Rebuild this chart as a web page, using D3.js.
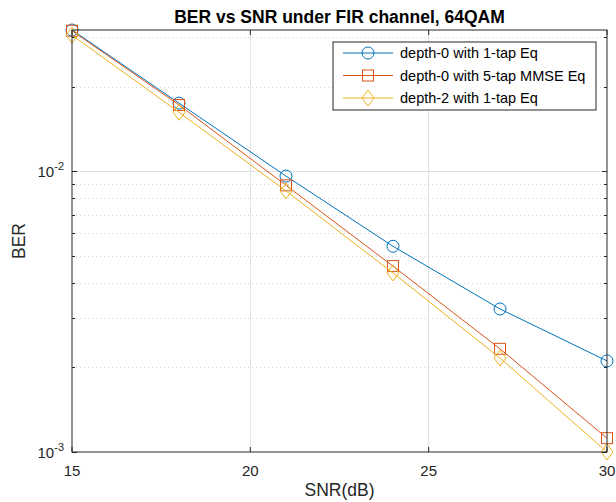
<!DOCTYPE html>
<html>
<head>
<meta charset="utf-8">
<script src="https://cdn.jsdelivr.net/npm/d3@7"></script>
<style>
  body { margin: 0; background: #fff; }
  text { font-family: "Liberation Sans", Arial, sans-serif; }
</style>
</head>
<body>
<div id="chart"></div>
<script>
// SNR points (dB)
var snr = [15, 18, 21, 24, 27, 30];
// BER values
var berDepth0OneTap = [0.0318, 0.01746, 0.0096, 0.0054, 0.00323, 0.00211];
var berDepth0Mmse = [0.0316, 0.0172, 0.0089, 0.00459, 0.00233, 0.00112];
var berDepth2OneTap = [0.0305, 0.0162, 0.0085, 0.00434, 0.00216, 0.0010];
var seriesNames = ["depth-0 with 1-tap Eq", "depth-0 with 5-tap MMSE Eq", "depth-2 with 1-tap Eq"];
var xTicks = [15, 20, 25, 30];
var yMajor = [0.001, 0.01];
var yMinor = [0.002, 0.003, 0.004, 0.005, 0.006, 0.007, 0.008, 0.009, 0.02, 0.03];

var W = 616, H = 502;
var margin = {top: 30, right: 9, bottom: 50, left: 72};
var width = W - margin.left - margin.right,
    height = H - margin.top - margin.bottom;

var colors = ["#0072BD", "#D95319", "#EDB120"];
var markers = ["circle", "square", "diamond"];
var series = [berDepth0OneTap, berDepth0Mmse, berDepth2OneTap];

var svg = d3.select("#chart").append("svg")
    .attr("width", W)
    .attr("height", H);

var g = svg.append("g")
    .attr("transform", "translate(" + margin.left + "," + margin.top + ")");

var x = d3.scaleLinear().domain([15, 30]).range([0, width]);
var y = d3.scaleLog().domain([0.001, 0.0318]).range([height, 0]);

// grid
g.selectAll(".xgrid").data(xTicks.slice(1, 3)).enter().append("line")
    .attr("x1", function(d) { return x(d); })
    .attr("x2", function(d) { return x(d); })
    .attr("y1", 0).attr("y2", height)
    .style("stroke", "#dfdfdf").style("stroke-width", 1);

g.selectAll(".ymin").data(yMinor).enter().append("line")
    .attr("x1", 0).attr("x2", width)
    .attr("y1", function(d) { return Math.round(y(d)) + 0.5; })
    .attr("y2", function(d) { return Math.round(y(d)) + 0.5; })
    .style("stroke", "#d8d8d8").style("stroke-width", 1)
    .style("stroke-dasharray", "1,3");

g.append("line")
    .attr("x1", 0).attr("x2", width)
    .attr("y1", Math.round(y(0.01)) + 0.5).attr("y2", Math.round(y(0.01)) + 0.5)
    .style("stroke", "#dfdfdf").style("stroke-width", 1);

// ticks (inside, both sides)
var tickLen = 5;
xTicks.forEach(function(t) {
    var px = x(t);
    g.append("line").attr("x1", px).attr("x2", px).attr("y1", height).attr("y2", height - tickLen)
        .style("stroke", "#262626");
    g.append("line").attr("x1", px).attr("x2", px).attr("y1", 0).attr("y2", tickLen)
        .style("stroke", "#262626");
});
yMajor.concat(yMinor).forEach(function(t) {
    var py = Math.round(y(t)) + 0.5;
    var len = yMajor.indexOf(t) >= 0 ? tickLen : 3;
    g.append("line").attr("x1", 0).attr("x2", len).attr("y1", py).attr("y2", py)
        .style("stroke", "#262626");
    g.append("line").attr("x1", width).attr("x2", width - len).attr("y1", py).attr("y2", py)
        .style("stroke", "#262626");
});

// tick labels
g.selectAll(".xlab").data(xTicks).enter().append("text")
    .attr("x", function(d) { return x(d); })
    .attr("y", height + 24)
    .attr("text-anchor", "middle")
    .style("font-size", "15px")
    .style("fill", "#262626")
    .text(function(d) { return d; });

yMajor.forEach(function(t) {
    var exp = Math.round(Math.log10(t));
    var lab = g.append("text")
        .attr("x", -8)
        .attr("y", y(t) + 6)
        .attr("text-anchor", "end")
        .style("font-size", "15px")
        .style("fill", "#262626");
    lab.append("tspan").text("10");
    lab.append("tspan").attr("dy", -7).style("font-size", "11px").text(exp);
});

// lines and markers
var line = d3.line()
    .x(function(d, i) { return x(snr[i]); })
    .y(function(d) { return y(d); });

function drawMarker(sel, type, color) {
    if (type === "circle") {
        sel.append("circle").attr("r", 6);
    } else if (type === "square") {
        sel.append("rect").attr("x", -5.5).attr("y", -5.5).attr("width", 11).attr("height", 11);
    } else {
        sel.append("path").attr("d", "M0,-8L6,0L0,8L-6,0Z");
    }
    sel.selectAll("*").style("fill", "none").style("stroke", color).style("stroke-width", 1);
}

series.forEach(function(vals, k) {
    g.append("path")
        .datum(vals)
        .attr("d", line)
        .style("fill", "none")
        .style("stroke", colors[k])
        .style("stroke-width", 1);
    vals.forEach(function(v, i) {
        var m = g.append("g").attr("transform", "translate(" + x(snr[i]) + "," + y(v) + ")");
        drawMarker(m, markers[k], colors[k]);
    });
});

// axes box
g.append("rect")
    .attr("x", 0).attr("y", 0)
    .attr("width", width).attr("height", height)
    .style("fill", "none")
    .style("stroke", "#262626")
    .style("stroke-width", 1);

// title and labels
svg.append("text")
    .attr("x", margin.left + width / 2)
    .attr("y", 23)
    .attr("text-anchor", "middle")
    .style("font-size", "17.5px")
    .style("font-weight", "bold")
    .style("fill", "#000")
    .text("BER vs SNR under FIR channel, 64QAM");

svg.append("text")
    .attr("x", margin.left + width / 2)
    .attr("y", 496)
    .attr("text-anchor", "middle")
    .style("font-size", "17.5px")
    .style("fill", "#262626")
    .text("SNR(dB)");

svg.append("text")
    .attr("transform", "translate(25," + (margin.top + height / 2) + ") rotate(-90)")
    .attr("text-anchor", "middle")
    .style("font-size", "17.5px")
    .style("fill", "#262626")
    .text("BER");

/***** Legend *****/
var leg = svg.append("g").attr("transform", "translate(333,42)");
leg.append("rect")
    .attr("width", 263).attr("height", 68)
    .style("fill", "#fff")
    .style("stroke", "#262626")
    .style("stroke-width", 1);

seriesNames.forEach(function(name, k) {
    var ly = 11 + k * 22.5;
    leg.append("line")
        .attr("x1", 10).attr("x2", 60).attr("y1", ly).attr("y2", ly)
        .style("stroke", colors[k]).style("stroke-width", 1);
    var m = leg.append("g").attr("transform", "translate(35," + ly + ")");
    drawMarker(m, markers[k], colors[k]);
    leg.append("text")
        .attr("x", 67).attr("y", ly + 5)
        .style("font-size", "14.5px")
        .style("fill", "#000")
        .text(name);
});
</script>
</body>
</html>
